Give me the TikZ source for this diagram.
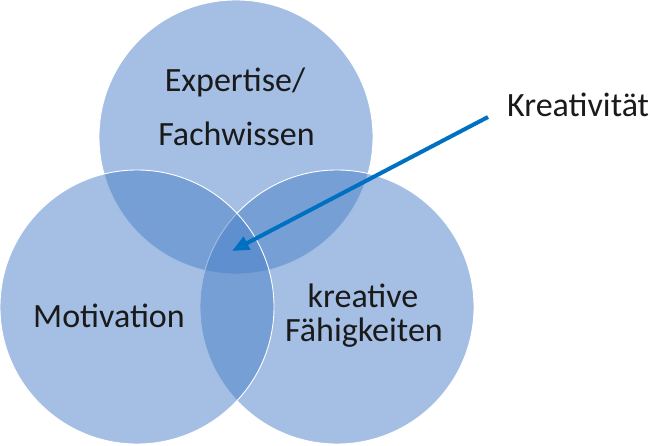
\documentclass[tikz,border=0pt]{standalone}
\usepackage{fontspec}
\setmainfont{Carlito}
\usetikzlibrary{arrows.meta}
\definecolor{circblue}{RGB}{73,127,199}
\definecolor{arrowblue}{RGB}{0,112,192}
\definecolor{txt}{RGB}{26,26,26}
\tikzset{
  venn/.style={circle, minimum size=274pt, inner sep=0pt, fill=circblue, fill opacity=0.5, draw=white, draw opacity=1, line width=0.9pt},
  lbl/.style={text=txt, font=\fontsize{34}{40}\selectfont, inner sep=0pt, anchor=base},
  pointer/.style={draw=arrowblue, line width=4pt, -{Triangle[length=17pt,width=14pt]}}
}
\begin{document}
\begin{tikzpicture}[x=1pt,y=-1pt]
\useasboundingbox (0,0) rectangle (650,446);
\node[venn] (top) at (236,137) {};
\node[venn] (right) at (337,307) {};
\node[venn] (left) at (137,307) {};
\node[lbl] (exp1) at (235,92) {Expertise/};
\node[lbl] (exp2) at (236.5,146) {Fachwissen};
\node[lbl] (mot) at (109,327) {Motivation};
\node[lbl] (kre1) at (363,307) {kreative};
\node[lbl] (kre2) at (364,341) {Fähigkeiten};
\node[lbl, anchor=base west] (krea) at (507,117) {Kreativität};
\coordinate (kstart) at (488,117);
\coordinate (ktip) at (232,251);
\draw[pointer] (kstart) -- (ktip);
\end{tikzpicture}
\end{document}
